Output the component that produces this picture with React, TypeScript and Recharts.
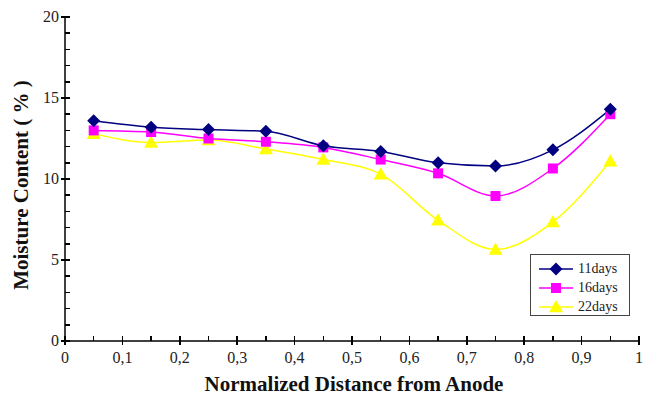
import { LineChart, Line, XAxis, YAxis } from 'recharts';

const distance = [0.05, 0.15, 0.25, 0.35, 0.45, 0.55, 0.65, 0.75, 0.85, 0.95];
const days11 = [13.6, 13.2, 13.05, 12.95, 12.05, 11.7, 11.0, 10.8, 11.8, 14.3];
const days16 = [13.0, 12.9, 12.5, 12.3, 11.95, 11.2, 10.35, 8.95, 10.65, 14.0];
const days22 = [12.8, 12.25, 12.4, 11.85, 11.2, 10.3, 7.45, 5.65, 7.35, 11.1];

const xTicks = [0, 0.05, 0.1, 0.15, 0.2, 0.25, 0.3, 0.35, 0.4, 0.45, 0.5, 0.55, 0.6, 0.65, 0.7, 0.75, 0.8, 0.85, 0.9, 0.95, 1];
const xLabels = ['0', '0,1', '0,2', '0,3', '0,4', '0,5', '0,6', '0,7', '0,8', '0,9', '1'];
const yTicks = [0, 1, 2, 3, 4, 5, 6, 7, 8, 9, 10, 11, 12, 13, 14, 15, 16, 17, 18, 19, 20];
const yLabels = ['0', '5', '10', '15', '20'];

const data = distance.map((d, i) => ({ d, a: days11[i], b: days16[i], c: days22[i] }));

const FONT = 'Liberation Serif';
const NAVY = '#000080';
const MAGENTA = '#ff00ff';
const YELLOW = '#ffff00';

function Diamond({ cx, cy, fill }: any) {
  const r = 6.5;
  return <polygon points={`${cx},${cy - r} ${cx + r},${cy} ${cx},${cy + r} ${cx - r},${cy}`} fill={fill} />;
}
function Square({ cx, cy, fill }: any) {
  const s = 5;
  return <rect x={cx - s} y={cy - s} width={s * 2} height={s * 2} fill={fill} />;
}
function Triangle({ cx, cy, fill }: any) {
  const r = 7;
  return <polygon points={`${cx},${cy - r} ${cx + r},${cy + r * 0.75} ${cx - r},${cy + r * 0.75}`} fill={fill} />;
}

const series = [
  { name: '11days', color: NAVY, Shape: Diamond },
  { name: '16days', color: MAGENTA, Shape: Square },
  { name: '22days', color: YELLOW, Shape: Triangle },
];

// tick renderers draw their own marks: majors cross the axis, minors point inward
// (recharts hands x/y of the label anchor, which sits 8px off the axis line)
function XTick({ x, y, payload }: any) {
  const idx = xTicks.indexOf(payload.value);
  const major = idx % 2 === 0;
  const axisY = y - 8;
  return (
    <g>
      <line x1={x} x2={x} y1={axisY - 5} y2={major ? axisY + 4 : axisY} stroke="#000" strokeWidth={1.5} shapeRendering="crispEdges" />
      {major && (
        <text x={x} y={axisY + 22} textAnchor="middle" fontFamily={FONT} fontSize={16} fill="#222">
          {xLabels[idx / 2]}
        </text>
      )}
    </g>
  );
}

function YTick({ x, y, payload }: any) {
  const v = payload.value;
  const major = v % 5 === 0;
  const axisX = x + 8;
  return (
    <g>
      <line x1={major ? axisX - 4 : axisX} x2={axisX + 5} y1={y} y2={y} stroke="#000" strokeWidth={1.5} shapeRendering="crispEdges" />
      {major && (
        <text x={axisX - 6} y={y + 5} textAnchor="end" fontFamily={FONT} fontSize={16} fill="#222">
          {yLabels[v / 5]}
        </text>
      )}
    </g>
  );
}

export default function App() {
  return (
    <div style={{ position: 'absolute', left: 0, top: 0, width: 651, height: 400, background: '#fff' }}>
      <LineChart width={651} height={400} data={data} margin={{ top: 17, right: 12, left: 25, bottom: 29 }}>
        <XAxis
          dataKey="d"
          type="number"
          domain={[0, 1]}
          ticks={xTicks}
          interval={0}
          height={30}
          stroke="#000"
          strokeWidth={1.5}
          tickLine={false}
          tick={<XTick />}
          label={{
            content: () => (
              <text x={354} y={391} textAnchor="middle" fontFamily={FONT} fontWeight="bold" fontSize={21} fill="#111">
                Normalized Distance from Anode
              </text>
            ),
          }}
        />
        <XAxis xAxisId="top" orientation="top" type="number" domain={[0, 1]} tick={false} tickLine={false} height={0} stroke="#000" strokeWidth={1.5} />
        <YAxis
          domain={[0, 20]}
          ticks={yTicks}
          interval={0}
          width={40}
          stroke="#000"
          strokeWidth={1.5}
          tickLine={false}
          tick={<YTick />}
          label={{
            content: () => (
              <text x={23} y={185} transform="rotate(-90 23 185)" textAnchor="middle" dominantBaseline="middle" fontFamily={FONT} fontWeight="bold" fontSize={21} fill="#111">
                Moisture Content ( % )
              </text>
            ),
          }}
        />
        <YAxis yAxisId="right" orientation="right" domain={[0, 20]} tick={false} tickLine={false} width={0} stroke="#000" strokeWidth={1.5} />
        <Line dataKey="c" type="monotone" stroke={YELLOW} strokeWidth={1.5} dot={<Triangle fill={YELLOW} />} isAnimationActive={false} />
        <Line dataKey="b" type="monotone" stroke={MAGENTA} strokeWidth={1.5} dot={<Square fill={MAGENTA} />} isAnimationActive={false} />
        <Line dataKey="a" type="monotone" stroke={NAVY} strokeWidth={1.5} dot={<Diamond fill={NAVY} />} isAnimationActive={false} />
      </LineChart>
      <div
        style={{
          position: 'absolute',
          left: 530,
          top: 254,
          width: 100,
          height: 62,
          border: '1px solid #444',
          background: '#fff',
          boxSizing: 'border-box',
          padding: '4px 0 0 6px',
        }}
      >
        {series.map(({ name, color, Shape }) => (
          <div key={name} style={{ display: 'flex', alignItems: 'center', height: 19 }}>
            <svg width={38} height={16}>
              <line x1={2} y1={8} x2={36} y2={8} stroke={color} strokeWidth={1.5} />
              <Shape cx={19} cy={8} fill={color} />
            </svg>
            <span style={{ fontFamily: FONT, fontSize: 14, color: '#222', marginLeft: 3 }}>{name}</span>
          </div>
        ))}
      </div>
    </div>
  );
}
